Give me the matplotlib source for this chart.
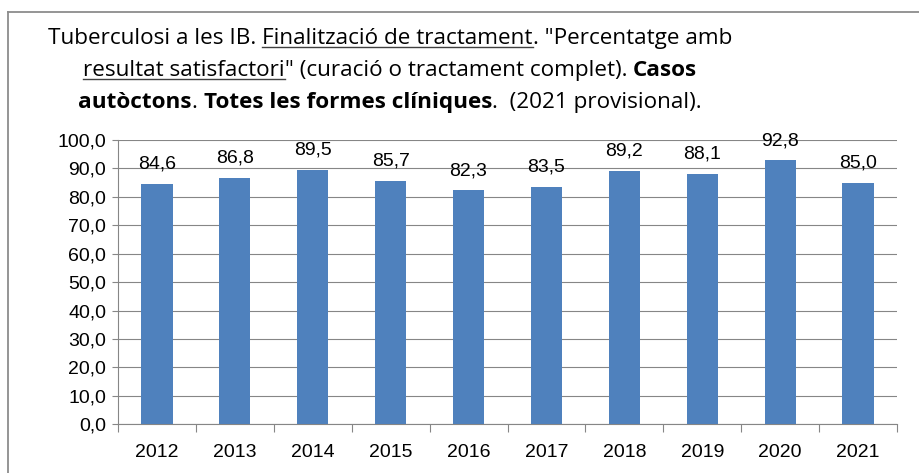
import matplotlib
matplotlib.use("Agg")
import matplotlib.pyplot as plt
from matplotlib.lines import Line2D
from matplotlib.ticker import FuncFormatter, FixedLocator

# Data
years = ["2012", "2013", "2014", "2015", "2016", "2017", "2018", "2019", "2020", "2021"]
pct = [84.6, 86.8, 89.5, 85.7, 82.3, 83.5, 89.2, 88.1, 92.8, 85.0]
y_ticks = [0, 10, 20, 30, 40, 50, 60, 70, 80, 90, 100]

# Title pieces: (text, bold, underline)
title_lines = [
    [("Tuberculosi a les IB. ", False, False),
     ("Finalització de tractament", False, True),
     ('. "Percentatge amb', False, False)],
    [("resultat satisfactori", False, True),
     ('" (curació o tractament complet). ', False, False),
     ("Casos", True, False)],
    [("autòctons", True, False),
     (". ", False, False),
     ("Totes les formes clíniques", True, False),
     (".  (2021 provisional).", False, False)],
]

W, H = 919, 473
BAR_COLOR = "#4F81BD"
GRID_COLOR = "#868686"
TICK_FONT = "Liberation Sans"
TITLE_FONT = "Open Sans"
TICK_SIZE = 14


def comma(v, pos=None):
    return f"{v:.1f}".replace(".", ",")


fig = plt.figure(figsize=(W / 100, H / 100), dpi=100)
renderer = fig.canvas.get_renderer()

# outer frame (left and top edges visible)
fig.add_artist(Line2D([8 / W, 8 / W], [0, 1 - 12 / H], transform=fig.transFigure,
                      color="#8c8c8c", lw=1.3))
fig.add_artist(Line2D([8 / W, 1], [1 - 12 / H, 1 - 12 / H], transform=fig.transFigure,
                      color="#8c8c8c", lw=1.3))


# title with mixed bold / underline
def text_width(s, bold, size):
    weight = "bold" if bold else "normal"
    t = fig.text(0, 0, "|" + s + "|", fontsize=size, fontweight=weight, family=TITLE_FONT)
    t2 = fig.text(0, 0, "||", fontsize=size, fontweight=weight, family=TITLE_FONT)
    w = t.get_window_extent(renderer).width - t2.get_window_extent(renderer).width
    t.remove()
    t2.remove()
    return w


title_size = 16.2
baselines = [44, 76, 108]
center_x = 390
for line, base in zip(title_lines, baselines):
    widths = [text_width(s, b, title_size) for s, b, u in line]
    x = center_x - sum(widths) / 2
    for (s, b, u), w in zip(line, widths):
        fig.text(x / W, 1 - base / H, s, fontsize=title_size, family=TITLE_FONT,
                 fontweight="bold" if b else "normal", ha="left", va="baseline")
        if u:
            fig.add_artist(Line2D([x / W, (x + w) / W], [1 - (base + 3) / H] * 2,
                                  transform=fig.transFigure, color="#404040", lw=1))
        x += w

# chart
ax = fig.add_axes([118 / W, 1 - 424.3 / H, 779 / W, 284.3 / H])
xs = list(range(len(years)))
ax.bar(xs, pct, width=0.4, color=BAR_COLOR, zorder=3)

for i, v in zip(xs, pct):
    ax.annotate(comma(v), (i, v), xytext=(0, 11), textcoords="offset points",
                ha="center", va="baseline", fontsize=TICK_SIZE, family=TICK_FONT)

ax.set_xlim(-0.5, len(years) - 0.5)
ax.set_ylim(0, 100)
ax.set_yticks(y_ticks)
ax.yaxis.set_major_formatter(FuncFormatter(comma))
ax.set_xticks(xs)
ax.set_xticklabels(years)
ax.xaxis.set_minor_locator(FixedLocator([i - 0.5 for i in range(len(years) + 1)]))

ax.grid(axis="y", color=GRID_COLOR, lw=0.8, zorder=0)
ax.set_axisbelow(True)
for side in ["top", "right"]:
    ax.spines[side].set_visible(False)
for side in ["left", "bottom"]:
    ax.spines[side].set_color(GRID_COLOR)
    ax.spines[side].set_linewidth(0.8)

ax.tick_params(axis="y", direction="out", length=4.5, width=0.8, color=GRID_COLOR,
               pad=4, labelsize=TICK_SIZE)
ax.tick_params(axis="x", which="major", length=0, pad=14, labelsize=TICK_SIZE)
ax.tick_params(axis="x", which="minor", direction="out", length=5.5, width=0.8,
               color=GRID_COLOR)
for lab in ax.get_xticklabels() + ax.get_yticklabels():
    lab.set_family(TICK_FONT)

fig.savefig("out.png", dpi=100)
